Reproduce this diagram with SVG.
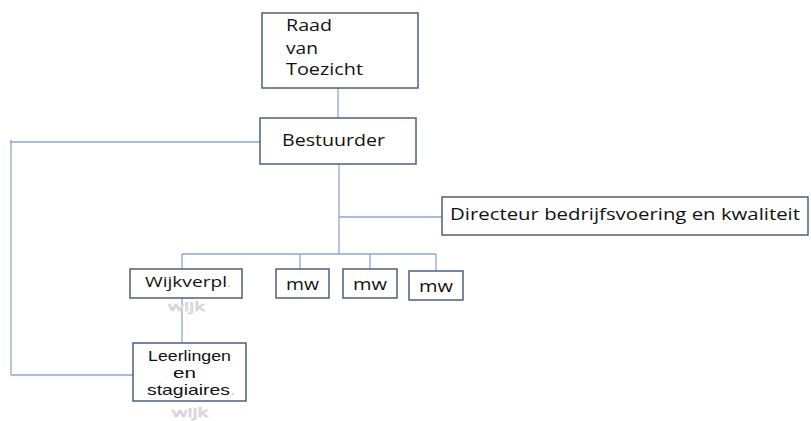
<svg xmlns="http://www.w3.org/2000/svg" width="811" height="421" viewBox="0 0 811 421">
<style>
.box{fill:#fff;stroke:#4e5f80;stroke-width:1.5}
.ln{stroke:#8ea6d0;stroke-width:1.3;fill:none}
.t{font-family:"Open Sans","Liberation Sans",sans-serif;fill:#111}
.s{font-family:"Liberation Sans","Open Sans",sans-serif;fill:#111}
.dot{font-family:"Open Sans","Liberation Sans",sans-serif;fill:#c4c4c4}
.g{font-family:"Open Sans","Liberation Sans",sans-serif;fill:#fff;stroke:#d0d0d0;stroke-width:0.7;font-size:13px}
</style>
<rect width="811" height="421" fill="#fff"/>
<g id="connectors">
<line class="ln" x1="338" y1="88" x2="338" y2="118"/>
<line class="ln" x1="339" y1="164" x2="339" y2="254"/>
<line class="ln" x1="339" y1="217" x2="442" y2="217"/>
<line class="ln" x1="182" y1="254" x2="436" y2="254"/>
<line class="ln" x1="182" y1="254" x2="182" y2="269"/>
<line class="ln" x1="300" y1="254" x2="300" y2="269"/>
<line class="ln" x1="370" y1="254" x2="370" y2="269"/>
<line class="ln" x1="436" y1="254" x2="436" y2="271"/>
<line class="ln" x1="182" y1="298" x2="182" y2="343"/>
<line class="ln" x1="10" y1="142" x2="260" y2="142"/>
<line class="ln" x1="11" y1="140" x2="11" y2="375"/>
<line class="ln" x1="11" y1="375" x2="133" y2="375"/>
</g>
<g id="raad">
<rect class="box" x="262" y="13" width="156" height="75"/>
<text class="t" font-size="17" x="286" y="31" textLength="46" lengthAdjust="spacingAndGlyphs">Raad</text>
<text class="t" font-size="17" x="286" y="54" textLength="32" lengthAdjust="spacingAndGlyphs">van</text>
<text class="t" font-size="17" x="286" y="75" textLength="77" lengthAdjust="spacingAndGlyphs">Toezicht</text>
</g>
<g id="bestuurder">
<rect class="box" x="260" y="118" width="156" height="46"/>
<text class="t" font-size="17" x="282" y="146" textLength="103" lengthAdjust="spacingAndGlyphs">Bestuurder</text>
</g>
<g id="directeur">
<rect class="box" x="442" y="197" width="366" height="38"/>
<text class="t" font-size="15.5" x="450" y="220" textLength="350" lengthAdjust="spacingAndGlyphs">Directeur bedrijfsvoering en kwaliteit</text>
</g>
<g id="wijkverpl">
<rect class="box" x="130" y="269" width="112" height="29"/>
<text class="t" font-size="14.5" x="145" y="287" textLength="82" lengthAdjust="spacingAndGlyphs">Wijkverpl</text>
<text class="dot" font-size="14.5" x="227" y="287">.</text>
<text class="g" x="168" y="311" textLength="37" lengthAdjust="spacingAndGlyphs">wijk</text>
</g>
<g id="mw1">
<rect class="box" x="276" y="269" width="53" height="29"/>
<text class="t" font-size="17" x="286" y="290" textLength="33" lengthAdjust="spacingAndGlyphs">mw</text>
</g>
<g id="mw2">
<rect class="box" x="343" y="269" width="54" height="29"/>
<text class="t" font-size="17" x="353" y="290" textLength="34" lengthAdjust="spacingAndGlyphs">mw</text>
</g>
<g id="mw3">
<rect class="box" x="409" y="271" width="54" height="29"/>
<text class="t" font-size="17" x="419" y="292" textLength="34" lengthAdjust="spacingAndGlyphs">mw</text>
</g>
<g id="leerlingen">
<rect class="box" x="133" y="343" width="113" height="58"/>
<text class="s" font-size="14.5" x="148" y="361" textLength="83" lengthAdjust="spacingAndGlyphs">Leerlingen</text>
<text class="s" font-size="14.5" x="173" y="378" textLength="23" lengthAdjust="spacingAndGlyphs">en</text>
<text class="s" font-size="14.5" x="147" y="395" textLength="83" lengthAdjust="spacingAndGlyphs">stagiaires</text>
<text class="dot" font-size="14" x="231" y="395">.</text>
<text class="g" x="172" y="417" textLength="36" lengthAdjust="spacingAndGlyphs">wijk</text>
</g>
</svg>
